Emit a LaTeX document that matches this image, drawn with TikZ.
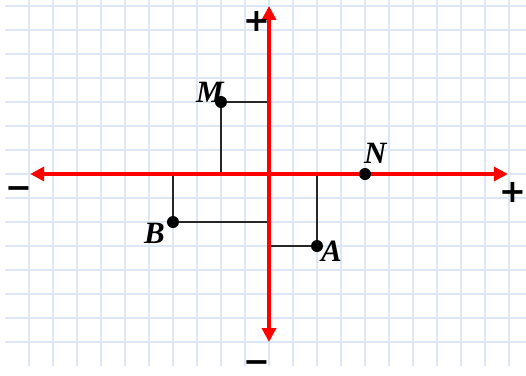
\documentclass[tikz,border=0pt]{standalone}
\usepackage{fontspec}
\setmainfont{Liberation Serif}
\newfontfamily\signfont{DejaVu Sans}
\usetikzlibrary{arrows.meta}
\definecolor{gridblue}{RGB}{219,231,245}
\begin{document}
\begin{tikzpicture}[x=24pt, y=24pt, line join=round, >={Triangle[length=14pt, width=14pt]},
	gridline/.style={draw=gridblue, line width=1.6pt},
	axisline/.style={red, line width=4pt, <->},
	projline/.style={black!85, line width=1.2pt},
	dot/.style={circle, fill=black, inner sep=0pt, minimum size=12pt},
	ptlabel/.style={font=\fontsize{31}{33}\selectfont\bfseries\itshape, inner sep=0pt},
	signlabel/.style={font=\fontsize{32}{34}\selectfont\signfont\bfseries, inner sep=0pt}]
	\useasboundingbox (-11.208,-8.375) rectangle (10.708,7.25);
	\foreach \y in {-7,...,7}
	\draw[gridline] (-11,\y) -- (10.708,\y);
	\foreach \x in {-10,...,10}
	\draw[gridline] (\x,-8) -- (\x,7.25);
	\coordinate (xl) at (-9.95,0);
	\coordinate (xr) at (9.95,0);
	\coordinate (yt) at (0,7);
	\coordinate (yb) at (0,-7);
	\coordinate (M) at (-2,3);
	\coordinate (N) at (4,0);
	\coordinate (A) at (2,-3);
	\coordinate (B) at (-4,-2);
	\coordinate (Mx) at (-2,0);
	\coordinate (My) at (0,3);
	\coordinate (Ax) at (2,0);
	\coordinate (Ay) at (0,-3);
	\coordinate (Bx) at (-4,0);
	\coordinate (By) at (0,-2);
	\draw[projline] (M) -- (Mx) (M) -- (My);
	\draw[projline] (A) -- (Ax) (A) -- (Ay);
	\draw[projline] (B) -- (Bx) (B) -- (By);
	\draw[axisline] (xl) -- (xr);
	\draw[axisline] (yb) -- (yt);
	\foreach \p in {M,N,A,B}
	\node[dot] (d\p) at (\p) {};
	\node[ptlabel, anchor=base east, xshift=3pt] (lM) at (M) {M};
	\node[ptlabel, anchor=base west, xshift=-1pt, yshift=11pt] (lN) at (N) {N};
	\node[ptlabel, anchor=base west, xshift=4pt, yshift=-15pt] (lA) at (A) {A};
	\node[ptlabel, anchor=base east, xshift=-8pt, yshift=-21pt] (lB) at (B) {B};
	\node[signlabel] (pt) at (-0.5,6.375) {+};
	\node[signlabel, anchor=base, text depth=0pt, text height=0.45em] (mb) at (-0.5,-8.25) {−};
	\node[signlabel] (ml) at (-10.4,-0.79) {−};
	\node[signlabel] (pr) at (10.15,-0.79) {+};
\end{tikzpicture}
\end{document}
